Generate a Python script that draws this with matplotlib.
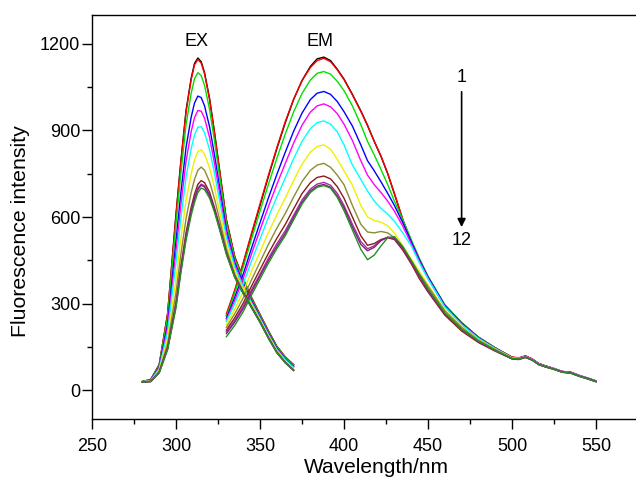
import matplotlib.pyplot as plt
from matplotlib.ticker import MultipleLocator

plt.rcParams['font.family'] = ['Liberation Sans', 'DejaVu Sans']

# excitation spectra (nm, intensity)
ex_wl = [280, 285, 290, 295, 300, 303, 306, 309, 311, 313, 315, 317,
         320, 323, 326, 330, 335, 340, 345, 350, 355, 360, 365, 370]
ex_1 = [30, 37, 88, 265, 610, 800, 970, 1080, 1132, 1151, 1138, 1100, 1010, 890, 760, 590, 462, 385, 320, 262, 205, 152, 115, 88]
ex_2 = [30, 37, 88, 264, 606, 796, 965, 1075, 1127, 1146, 1133, 1096, 1006, 887, 758, 589, 461, 384, 320, 262, 205, 152, 115, 88]
ex_3 = [30, 36, 85, 251, 575, 757, 921, 1028, 1079, 1100, 1090, 1056, 972, 860, 738, 577, 454, 380, 316, 259, 202, 150, 113, 86]
ex_4 = [29, 35, 80, 229, 518, 689, 842, 945, 995, 1019, 1014, 985, 912, 812, 702, 556, 442, 371, 310, 254, 198, 146, 109, 82]
ex_5 = [29, 34, 77, 216, 483, 648, 794, 895, 944, 969, 967, 942, 875, 783, 680, 543, 434, 365, 306, 251, 195, 143, 107, 80]
ex_6 = [29, 33, 74, 201, 443, 600, 739, 836, 884, 911, 913, 892, 833, 749, 655, 528, 425, 359, 302, 248, 192, 141, 105, 78]
ex_7 = [29, 32, 69, 178, 384, 529, 657, 749, 797, 827, 833, 818, 770, 699, 617, 506, 412, 350, 296, 243, 188, 137, 101, 74]
ex_8 = [28, 31, 65, 161, 339, 475, 595, 684, 730, 762, 773, 762, 722, 661, 589, 490, 402, 343, 291, 239, 184, 134, 98, 71]
ex_9 = [28, 30, 62, 147, 304, 433, 547, 633, 679, 713, 726, 719, 686, 631, 567, 477, 394, 338, 287, 237, 181, 131, 96, 69]
ex_10 = [28, 30, 61, 144, 296, 423, 535, 621, 666, 700, 714, 708, 676, 624, 562, 474, 392, 337, 286, 236, 181, 131, 96, 69]
ex_11 = [28, 30, 61, 143, 292, 419, 530, 615, 661, 695, 710, 704, 673, 621, 560, 473, 392, 336, 286, 236, 181, 130, 95, 68]
ex_12 = [28, 30, 60, 140, 285, 410, 520, 605, 650, 685, 700, 695, 665, 615, 555, 470, 390, 335, 285, 235, 180, 130, 95, 68]

# emission spectra
em_wl = [330, 335, 340, 345, 350, 355, 360, 365, 370, 375, 380, 384, 388,
         392, 396, 400, 405, 410, 414, 418, 422, 426, 430, 435, 440, 445, 450,
         460, 470, 480, 490, 500, 504, 508, 512, 516, 520, 525, 530, 535, 540, 545, 550]
em_1 = [258, 343, 437, 540, 640, 740, 836, 926, 1007, 1073, 1122, 1148, 1154,
        1142, 1112, 1078, 1025, 968, 918, 862, 810, 750, 680, 590, 515, 450, 392,
        295, 234, 184, 147, 114, 110, 118, 108, 92, 84, 75, 64, 62, 51, 42, 32]
em_2 = [265, 348, 442, 545, 645, 745, 840, 930, 1008, 1072, 1118, 1142, 1150,
        1138, 1110, 1076, 1023, 966, 916, 862, 812, 752, 682, 592, 516, 450, 390,
        292, 232, 182, 146, 115, 112, 119, 108, 91, 83, 74, 65, 61, 50, 41, 31]
em_3 = [255, 338, 426, 525, 620, 713, 803, 887, 964, 1028, 1075, 1098, 1104,
        1095, 1070, 1038, 985, 920, 862, 815, 765, 712, 655, 590, 522, 455, 395,
        296, 233, 183, 146, 113, 111, 116, 107, 90, 82, 74, 63, 60, 50, 40, 30]
em_4 = [248, 322, 402, 493, 580, 666, 747, 824, 897, 960, 1007, 1029, 1035,
        1025, 1000, 965, 915, 850, 795, 760, 722, 682, 640, 580, 515, 450, 392,
        293, 231, 181, 145, 112, 110, 117, 107, 91, 83, 73, 64, 61, 49, 41, 31]
em_5 = [243, 312, 387, 473, 555, 636, 713, 785, 856, 918, 964, 985, 992,
        982, 958, 922, 865, 795, 745, 712, 685, 655, 620, 568, 508, 445, 388,
        290, 229, 180, 145, 113, 112, 118, 108, 92, 84, 75, 65, 62, 51, 42, 32]
em_6 = [238, 300, 369, 448, 524, 599, 669, 735, 802, 862, 906, 927, 933,
        922, 895, 850, 780, 730, 690, 655, 630, 610, 585, 545, 500, 440, 385,
        288, 227, 179, 144, 112, 110, 116, 106, 90, 82, 74, 64, 60, 50, 41, 31]
em_7 = [228, 281, 341, 412, 479, 546, 607, 665, 726, 783, 825, 844, 850,
        835, 800, 760, 710, 640, 600, 588, 582, 570, 545, 500, 455, 410, 365,
        278, 220, 175, 142, 111, 109, 115, 106, 90, 82, 73, 63, 60, 49, 40, 30]
em_8 = [218, 265, 319, 383, 444, 505, 561, 612, 669, 723, 762, 780, 786,
        772, 745, 712, 640, 575, 548, 545, 550, 545, 528, 492, 448, 402, 360,
        275, 218, 173, 141, 110, 108, 115, 105, 89, 81, 73, 63, 59, 49, 40, 30]
em_9 = [208, 251, 301, 361, 418, 474, 526, 574, 628, 681, 719, 737, 742,
        732, 705, 665, 600, 535, 502, 508, 522, 528, 522, 485, 438, 385, 340,
        260, 205, 165, 135, 108, 106, 113, 104, 88, 80, 72, 62, 59, 48, 39, 29]
em_10 = [202, 242, 290, 348, 402, 457, 507, 552, 606, 659, 697, 714, 720,
         710, 682, 640, 575, 515, 490, 500, 520, 530, 525, 490, 443, 392, 345,
         265, 210, 168, 137, 109, 107, 114, 104, 88, 81, 72, 62, 59, 48, 40, 30]
em_11 = [196, 236, 283, 340, 395, 449, 498, 543, 598, 651, 690, 707, 713,
         703, 673, 632, 565, 505, 483, 495, 518, 530, 527, 492, 445, 395, 348,
         266, 211, 169, 138, 109, 108, 114, 105, 89, 81, 73, 63, 60, 49, 40, 30]
em_12 = [185, 225, 272, 330, 385, 440, 490, 535, 590, 645, 685, 703, 709,
         700, 668, 622, 555, 488, 452, 468, 500, 528, 532, 498, 450, 400, 352,
         268, 212, 170, 138, 110, 108, 114, 105, 89, 81, 72, 62, 59, 48, 39, 29]

ex_all = [ex_1, ex_2, ex_3, ex_4, ex_5, ex_6, ex_7, ex_8, ex_9, ex_10, ex_11, ex_12]
em_all = [em_1, em_2, em_3, em_4, em_5, em_6, em_7, em_8, em_9, em_10, em_11, em_12]
colors = ['#000000', '#FF0000', '#00E000', '#0000FF', '#FF00FF', '#00FFFF',
          '#F0F000', '#8C8C30', '#8B1A1A', '#A030A0', '#802080', '#229022']

fig = plt.figure(figsize=(6.36, 4.8), dpi=100)
ax = fig.add_axes([92/636, 61/480, 1 - 92/636, (419 - 15)/480])

for ex, em, c in zip(ex_all, em_all, colors):
    ax.plot(ex_wl, ex, color=c, lw=1.0)
    ax.plot(em_wl, em, color=c, lw=1.0)

ax.set_xlim(250, 573.8)
ax.set_ylim(-100, 1300)
ax.xaxis.set_major_locator(MultipleLocator(50))
ax.xaxis.set_minor_locator(MultipleLocator(25))
ax.yaxis.set_major_locator(MultipleLocator(300))
ax.yaxis.set_minor_locator(MultipleLocator(150))
ax.spines['right'].set_visible(False)
for s in ax.spines.values():
    s.set_linewidth(1.0)
ax.tick_params(which='major', length=7, width=1.0, labelsize=13)
ax.tick_params(which='minor', length=3.5, width=1.0)
ax.tick_params(axis='x', which='major', pad=7)
ax.tick_params(axis='y', which='major', pad=1.5)
ax.tick_params(top=False, right=False)

# reference crops this label at the bottom edge; keep it just inside
ax.set_xlabel('Wavelength/nm', fontsize=15)
ax.set_ylabel('Fluorescence intensity', fontsize=15.3)
ax.xaxis.set_label_coords(0.523, -0.097)
ax.yaxis.set_label_coords(-0.114, 0.465)

ax.text(312, 1208, 'EX', fontsize=13, ha='center', va='center')
ax.text(386, 1208, 'EM', fontsize=13, ha='center', va='center')
ax.text(470, 1082, '1', fontsize=13, ha='center', va='center')
ax.text(470, 520, '12', fontsize=13, ha='center', va='center')
ax.annotate('', xy=(470, 565), xytext=(470, 1034),
            arrowprops=dict(arrowstyle='-|>', color='k', lw=1.2,
                            mutation_scale=12, shrinkA=0, shrinkB=0))

fig.savefig('out.png', dpi=100)
